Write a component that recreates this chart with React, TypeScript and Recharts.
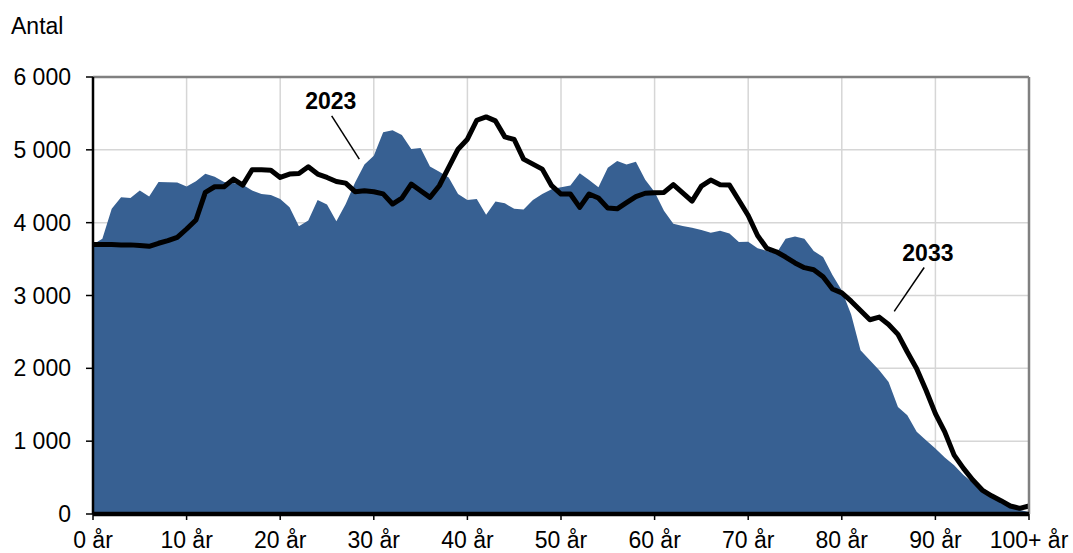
import { ComposedChart, Area, Line, XAxis, YAxis, CartesianGrid, ReferenceLine, ReferenceDot } from 'recharts'

// Befolkning per ettårsklass, 0–100+ år
const ages = Array.from({ length: 101 }, (_, i) => i)

const pop2023 = [
  3700, 3780, 4190, 4350, 4340, 4440, 4360, 4560, 4555, 4550,
  4495, 4570, 4670, 4630, 4560, 4545, 4520, 4440, 4395, 4380,
  4325, 4210, 3950, 4030, 4310, 4250, 4020, 4255, 4550, 4800,
  4920, 5240, 5270, 5205, 5010, 5025, 4770, 4700, 4620, 4395,
  4310, 4325, 4110, 4290, 4265, 4190, 4180, 4310, 4395, 4460,
  4485, 4510, 4680, 4585, 4485, 4755, 4845, 4800, 4835, 4590,
  4420, 4165, 3985, 3955, 3930, 3900, 3862, 3888, 3852, 3733,
  3738, 3650, 3612, 3575, 3780, 3810, 3780, 3612, 3528, 3280,
  3068, 2740, 2247, 2110, 1973, 1813, 1470, 1356, 1128, 1014,
  900, 776, 671, 534, 429, 329, 228, 155, 91, 55,
  27
]

const proj2033 = [
  3700, 3700, 3700, 3695, 3695, 3685, 3676, 3717, 3753, 3799,
  3913, 4037, 4416, 4493, 4493, 4598, 4516, 4726, 4726, 4721,
  4621, 4667, 4676, 4767, 4667, 4621, 4566, 4543, 4425, 4438,
  4425, 4395, 4256, 4338, 4530, 4438, 4347, 4507, 4758, 5009,
  5146, 5406, 5452, 5397, 5178, 5142, 4872, 4804, 4735, 4507,
  4393, 4393, 4210, 4393, 4338, 4200, 4190, 4275, 4358, 4404,
  4411, 4415, 4523, 4410, 4296, 4502, 4585, 4521, 4516, 4308,
  4098, 3824, 3646, 3600, 3528, 3447, 3382, 3354, 3258, 3090,
  3036, 2922, 2795, 2667, 2703, 2603, 2466, 2224, 1995, 1699,
  1379, 1128, 808, 626, 466, 329, 250, 183, 110, 78,
  110
]

const xTicks = [0, 10, 20, 30, 40, 50, 60, 70, 80, 90, 100]
const yTicks = [0, 1000, 2000, 3000, 4000, 5000, 6000]

const FONT = '"Liberation Sans", Arial, sans-serif'
const BLUE = '#376092'

const data = ages.map((age, i) => ({
  age,
  y2023: pop2023[i],
  y2033: proj2033[i]
}))

const fmtAge = (v: number): string => (v === 100 ? '100+ år' : `${v} år`)
const fmtNum = (v: number): string => (v === 0 ? '0' : `${v / 1000} 000`)

export default function App() {
  return (
    <div style={{ position: 'absolute', left: 0, top: 0, width: 1073, height: 553, background: '#fff', fontFamily: FONT }}>
      <svg width={200} height={50} style={{ position: 'absolute', left: 0, top: 0 }}>
        <text x={11} y={34} fontSize={23} fontFamily={FONT} fill="#000">Antal</text>
      </svg>
      <ComposedChart
        width={1073}
        height={553}
        data={data}
        margin={{ top: 77, right: 44, left: 13, bottom: 9 }}
        style={{ fontFamily: FONT }}
      >
        <CartesianGrid stroke="#d6d6d6" strokeWidth={1.5} />
        <XAxis
          dataKey="age"
          type="number"
          domain={[0, 100]}
          ticks={xTicks}
          tickFormatter={fmtAge}
          height={30}
          axisLine={{ stroke: '#000', strokeWidth: 4.5 }}
          tickLine={{ stroke: '#000', strokeWidth: 1.5 }}
          tickSize={6}
          tickMargin={12}
          tick={{ fill: '#000', fontSize: 23, fontFamily: FONT }}
          interval={0}
        />
        <YAxis
          domain={[0, 6000]}
          ticks={yTicks}
          tickFormatter={fmtNum}
          width={80}
          axisLine={{ stroke: '#000', strokeWidth: 2.5 }}
          tickLine={{ stroke: '#000', strokeWidth: 1.5 }}
          tickSize={7}
          tickMargin={15}
          tick={{ fill: '#000', fontSize: 23, fontFamily: FONT }}
          interval={0}
        />
        <Area
          dataKey="y2023"
          type="linear"
          fill={BLUE}
          fillOpacity={1}
          stroke="none"
          isAnimationActive={false}
        />
        <Line
          dataKey="y2033"
          type="linear"
          stroke="#000"
          strokeWidth={5}
          strokeLinejoin="round"
          dot={false}
          activeDot={false}
          isAnimationActive={false}
        />
        <ReferenceLine y={6000} stroke="#808080" strokeWidth={2.5} />
        <ReferenceLine x={100} stroke="#808080" strokeWidth={2.5} />
        <ReferenceLine segment={[{ x: 25.5, y: 5466 }, { x: 28.45, y: 4873 }]} stroke="#000" strokeWidth={1.5} />
        <ReferenceLine segment={[{ x: 88.8, y: 3384 }, { x: 85.6, y: 2781 }]} stroke="#000" strokeWidth={1.5} />
        <ReferenceDot
          x={25.4}
          y={5671}
          r={0}
          stroke="none"
          fill="none"
          label={{ value: '2023', position: 'center', fontSize: 23, fontWeight: 'bold', fill: '#000', fontFamily: FONT }}
        />
        <ReferenceDot
          x={89.2}
          y={3589}
          r={0}
          stroke="none"
          fill="none"
          label={{ value: '2033', position: 'center', fontSize: 23, fontWeight: 'bold', fill: '#000', fontFamily: FONT }}
        />
      </ComposedChart>
    </div>
  )
}
